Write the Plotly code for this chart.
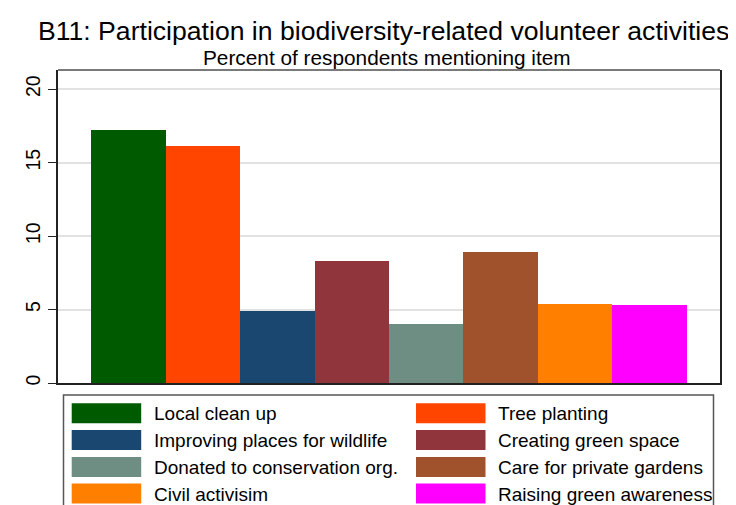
import plotly.graph_objects as go

# ---- data ----
categories = ["Local clean up", "Tree planting", "Improving places for wildlife",
              "Creating green space", "Donated to conservation org.",
              "Care for private gardens", "Civil activisim", "Raising green awareness"]
values = [17.2, 16.1, 4.9, 8.3, 4.0, 8.9, 5.4, 5.3]
colors = ["#005A00", "#FF4500", "#1A476F", "#90353B", "#6E8E84", "#A0522D", "#FF7F00", "#FF00FF"]
y_ticks = [0, 5, 10, 15, 20]

title_text = "B11: Participation in biodiversity-related volunteer activities"
subtitle_text = "Percent of respondents mentioning item"

# ---- layout geometry ----
# page is drawn with an 8px body margin, so target page pixels are shifted by OFF
OFF = 8
W, H = 736 - OFF, 505 - OFF
PL, PR, PT, PB = 58, 720, 70, 383   # plot area in page pixels
L, T = PL - OFF, PT - OFF
R = W - (PR - OFF)
B = H - (PB - OFF)
PW, PH = PR - PL, PB - PT

def fx(px):
    return (px - PL) / PW

def fy(py):
    return (PB - py) / PH

FONT = "Liberation Sans, Arial, sans-serif"

fig = go.Figure()
fig.add_trace(go.Bar(
    x=list(range(len(values))), y=values, width=1,
    marker=dict(color=colors, line=dict(width=0)),
    hovertext=categories, showlegend=False,
))

shapes = []
annotations = []

# top frame line (gray)
shapes.append(dict(type="line", xref="paper", yref="paper", x0=0, x1=1, y0=1, y1=1,
                   line=dict(color="#7a7a7a", width=2), layer="above"))

# legend box
shapes.append(dict(type="rect", xref="paper", yref="paper",
                   x0=fx(63.5), x1=fx(713.5), y0=fy(540), y1=fy(395),
                   line=dict(color="#555555", width=1.5), fillcolor="rgba(0,0,0,0)"))

col_sw_x = [71.7, 416]
col_tx_x = [151.7, 496]
row_top = [403.3, 430.0, 457.0, 483.6]
for i, (name, c) in enumerate(zip(categories, colors)):
    col = i % 2
    row = i // 2
    x0 = col_sw_x[col]
    y0 = row_top[row]
    shapes.append(dict(type="rect", xref="paper", yref="paper",
                       x0=fx(x0), x1=fx(x0 + 69.5), y0=fy(y0 + 20), y1=fy(y0),
                       line=dict(width=0), fillcolor=c))
    annotations.append(dict(xref="paper", yref="paper", x=fx(col_tx_x[col]), y=fy(y0 + 10.5),
                            text=name, showarrow=False, xanchor="left", yanchor="middle",
                            font=dict(family=FONT, size=19, color="#000000")))

annotations.append(dict(xref="paper", yref="paper", x=fx(383), y=fy(31), text=title_text,
                        showarrow=False, xanchor="center", yanchor="middle",
                        font=dict(family=FONT, size=26.6, color="#000000")))
annotations.append(dict(xref="paper", yref="paper", x=fx(387), y=fy(57), text=subtitle_text,
                        showarrow=False, xanchor="center", yanchor="middle",
                        font=dict(family=FONT, size=20.8, color="#000000")))

fig.update_layout(
    width=W, height=H,
    margin=dict(l=L, r=R, t=T, b=B, pad=0),
    paper_bgcolor="white", plot_bgcolor="white",
    bargap=0,
    xaxis=dict(range=[-0.95, 7.95], showticklabels=False, ticks="", showgrid=False,
               zeroline=False, showline=True, linecolor="#222222", linewidth=2),
    yaxis=dict(range=[0, 21.3], tickvals=y_ticks, ticks="outside", ticklen=8,
               tickwidth=1, tickcolor="#222222", tickangle=-90,
               tickfont=dict(family=FONT, size=19.5, color="#000000"),
               showgrid=True, gridcolor="#e2e2e2", gridwidth=2, zeroline=False,
               showline=True, linecolor="#222222", linewidth=2, mirror=True),
    shapes=shapes, annotations=annotations,
)

fig.write_html("out.html")
